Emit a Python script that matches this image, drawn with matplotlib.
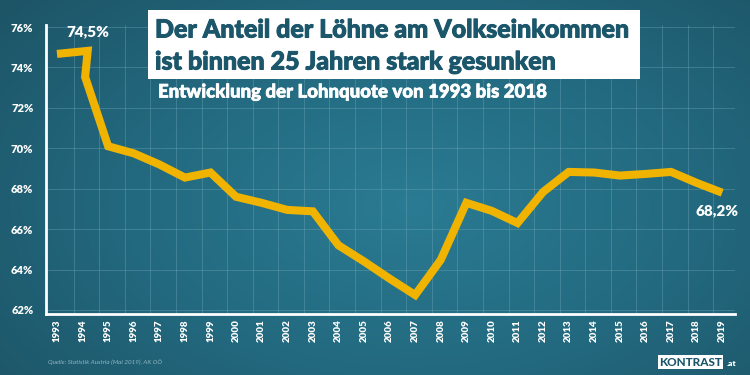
import numpy as np
import matplotlib
matplotlib.use("Agg")
import matplotlib.pyplot as plt
import matplotlib.patheffects as pe
from matplotlib.colors import LinearSegmentedColormap
from matplotlib.patches import Rectangle

plt.rcParams['font.family'] = ['Lato', 'DejaVu Sans']

# Lohnquote (percent)
years = [1993, 1994.2, 1994.1, 1995, 1996, 1997, 1998, 1999, 2000, 2001, 2002,
         2003, 2004, 2005, 2006, 2007, 2008, 2009, 2010, 2011, 2012, 2013,
         2014, 2015, 2016, 2017, 2018, 2019]
quote = [74.67, 74.82, 73.53, 70.1, 69.75, 69.2, 68.55, 68.8, 67.6, 67.3, 66.95,
         66.88, 65.2, 64.4, 63.55, 62.74, 64.48, 67.3, 66.9, 66.3, 67.84, 68.83,
         68.8, 68.65, 68.73, 68.83, 68.29, 67.8]
tick_years = list(range(1993, 2020))
y_ticks = [62, 64, 66, 68, 70, 72, 74, 76]

fig = plt.figure(figsize=(7.5, 3.75), dpi=100)

# background gradient
bg = fig.add_axes([0, 0, 1, 1], zorder=0)
xx, yy = np.meshgrid(np.linspace(0, 1, 300), np.linspace(0, 1, 150))
r = np.sqrt(((xx - 0.55) / 0.75) ** 2 + ((yy - 0.45) / 0.9) ** 2)
cmap = LinearSegmentedColormap.from_list('bg', ['#2a7b93', '#236a80', '#1d5466'])
bg.imshow(np.clip(r, 0, 1), cmap=cmap, extent=[0, 1, 0, 1], aspect='auto', origin='lower')
bg.set_xlim(0, 1)
bg.set_ylim(0, 1)
bg.axis('off')

ax = fig.add_axes([0.0613, 0.1627, 0.9187, 0.7706], zorder=1)
ax.patch.set_alpha(0)
ax.plot(years, quote, color='#f0b400', lw=5.8, solid_joinstyle='miter', solid_capstyle='butt', zorder=3)

ax.set_xlim(1992.57, 2019.5)
ax.set_ylim(61.8, 76.1)
ax.set_yticks(y_ticks)
ax.set_yticklabels([f'{v}%' for v in y_ticks])
ax.set_xticks(tick_years)
ax.set_xticklabels([str(y) for y in tick_years], rotation=90)
ax.tick_params(length=0, colors='white', labelsize=8)
ax.tick_params(axis='y', pad=9)
ax.tick_params(axis='x', pad=4, labelsize=7)
for lab in ax.get_xticklabels() + ax.get_yticklabels():
    lab.set_fontweight(800)

# faint grid
for v in y_ticks:
    ax.axhline(v, color='#6fa7b8', lw=0.6, alpha=0.45, zorder=1)
for y in tick_years:
    ax.axvline(y + 0.65, color='#6fa7b8', lw=0.6, alpha=0.45, zorder=1)

for s in ['top', 'right']:
    ax.spines[s].set_visible(False)
for s in ['left', 'bottom']:
    ax.spines[s].set_color('white')
    ax.spines[s].set_linewidth(2)

ax.annotate('74,5%', (1994.2, 74.82), xytext=(0, 9), textcoords='offset points',
            ha='center', va='bottom', color='white', fontsize=11, fontweight=800)
ax.annotate('68,2%', (2019, 67.8), xytext=(-4, -8), textcoords='offset points',
            ha='center', va='top', color='white', fontsize=11, fontweight=800)

# title box
title_col = '#1b566a'
heavy = [pe.withStroke(linewidth=0.7, foreground=title_col)]
fig.patches.append(Rectangle((148 / 750, 1 - 79 / 375), 492 / 750, 69 / 375,
                             transform=fig.transFigure, facecolor='white', edgecolor='none', zorder=2))
fig.text(155 / 750, 1 - 30 / 375, 'Der Anteil der Löhne am Volkseinkommen', color=title_col,
         fontsize=18.0, fontweight=900, va='center', ha='left', zorder=3, path_effects=heavy)
fig.text(155 / 750, 1 - 62 / 375, 'ist binnen 25 Jahren stark gesunken', color=title_col,
         fontsize=18.0, fontweight=900, va='center', ha='left', zorder=3, path_effects=heavy)
fig.text(158 / 750, 1 - 92 / 375, 'Entwicklung der Lohnquote von 1993 bis 2018', color='white',
         fontsize=13.4, fontweight=900, va='center', ha='left', zorder=3,
         path_effects=[pe.withStroke(linewidth=0.5, foreground='white')])

fig.text(48 / 750, 1 - 362 / 375, 'Quelle: Statistik Austria (Mai 2019), AK OÖ', color='#8fb5c2',
         fontsize=4.5, style='italic', va='center', ha='left')

# logo
fig.text(659 / 750, 1 - 362 / 375, 'KONTRAST', color=title_col, fontsize=8.5, fontweight=900,
         va='center', ha='left', bbox=dict(boxstyle='square,pad=0.12', fc='white', ec='none'))
fig.text(727 / 750, 1 - 364 / 375, '.at', color='white', fontsize=6, fontweight=800,
         va='center', ha='left')

fig.savefig('out.png', dpi=100)
